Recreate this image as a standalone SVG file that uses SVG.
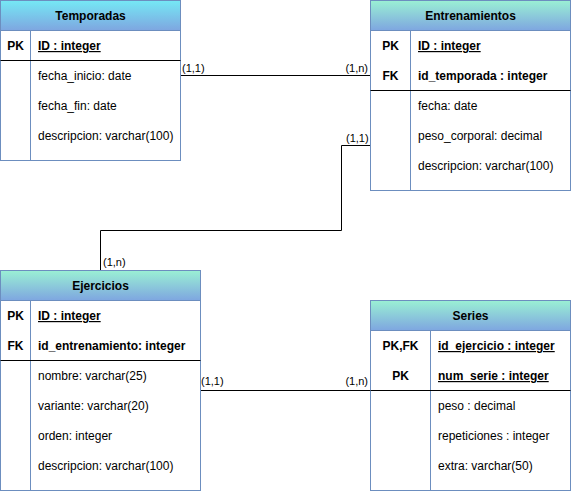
<svg xmlns="http://www.w3.org/2000/svg" width="571" height="491" viewBox="0 0 571 491">
<defs>
<linearGradient id="gCyan" x1="0" y1="0" x2="0" y2="1"><stop offset="0" stop-color="#75E8F5"/><stop offset="1" stop-color="#7EA6E0"/></linearGradient>
<linearGradient id="gGreen" x1="0" y1="0" x2="0" y2="1"><stop offset="0" stop-color="#9AF0D4"/><stop offset="1" stop-color="#7EA6E0"/></linearGradient>
<style>
.box{fill:#ffffff;stroke:#6C8EBF;stroke-width:1}
.div{stroke:#6C8EBF;stroke-width:1;fill:none}
.sep{stroke:#000000;stroke-width:1;fill:none}
.t{font-family:"Liberation Sans",Arial,sans-serif;font-size:12px;fill:#000000}
.b{font-weight:bold}
.c{text-anchor:middle}
.u{text-decoration:underline}
.lbl{font-family:"Liberation Sans",Arial,sans-serif;font-size:11px;fill:#000000}
.conn{stroke:#000000;stroke-width:1;fill:none}
</style>
</defs>
<g id="connectors">
<path class="conn" d="M180.5 75.5 H370"/>
<path class="conn" d="M370 145.5 H341.5 V230.5 H100.5 V270"/>
<path class="conn" d="M200 390.5 H370"/>
<text class="lbl" x="182" y="72">(1,1)</text>
<text class="lbl" x="368" y="72" text-anchor="end">(1,n)</text>
<text class="lbl" x="346" y="142">(1,1)</text>
<text class="lbl" x="103" y="266">(1,n)</text>
<text class="lbl" x="201" y="385">(1,1)</text>
<text class="lbl" x="368" y="385" text-anchor="end">(1,n)</text>
</g>
<g id="temporadas">
<rect class="box" x="0.5" y="0.5" width="180" height="160"/>
<rect x="0.5" y="0.5" width="180" height="30" fill="url(#gCyan)" stroke="#6C8EBF"/>
<path class="div" d="M30.5 30.5 V160.5"/>
<path class="sep" d="M0.5 60.5 H180.5"/>
<text class="t b c" x="90.5" y="20">Temporadas</text>
<text class="t b c" x="15.5" y="50">PK</text>
<text class="t b u" x="38" y="50">ID : integer</text>
<text class="t" x="38" y="80">fecha_inicio: date</text>
<text class="t" x="38" y="110">fecha_fin: date</text>
<text class="t" x="38" y="140">descripcion: varchar(100)</text>
</g>
<g id="entrenamientos">
<rect class="box" x="370.5" y="0.5" width="200" height="190"/>
<rect x="370.5" y="0.5" width="200" height="30" fill="url(#gGreen)" stroke="#6C8EBF"/>
<path class="div" d="M410.5 30.5 V190.5"/>
<path class="sep" d="M370.5 90.5 H570.5"/>
<text class="t b c" x="470.5" y="20">Entrenamientos</text>
<text class="t b c" x="390.5" y="50">PK</text>
<text class="t b u" x="418" y="50">ID : integer</text>
<text class="t b c" x="390.5" y="80">FK</text>
<text class="t b" x="418" y="80">id_temporada : integer</text>
<text class="t" x="418" y="110">fecha: date</text>
<text class="t" x="418" y="140">peso_corporal: decimal</text>
<text class="t" x="418" y="170">descripcion: varchar(100)</text>
</g>
<g id="ejercicios">
<rect class="box" x="0.5" y="270.5" width="200" height="220"/>
<rect x="0.5" y="270.5" width="200" height="30" fill="url(#gGreen)" stroke="#6C8EBF"/>
<path class="div" d="M30.5 300.5 V490.5"/>
<path class="sep" d="M0.5 360.5 H200.5"/>
<text class="t b c" x="100.5" y="290">Ejercicios</text>
<text class="t b c" x="15.5" y="320">PK</text>
<text class="t b u" x="38" y="320">ID : integer</text>
<text class="t b c" x="15.5" y="350">FK</text>
<text class="t b" x="38" y="350">id_entrenamiento: integer</text>
<text class="t" x="38" y="380">nombre: varchar(25)</text>
<text class="t" x="38" y="410">variante: varchar(20)</text>
<text class="t" x="38" y="440">orden: integer</text>
<text class="t" x="38" y="470">descripcion: varchar(100)</text>
</g>
<g id="series">
<rect class="box" x="370.5" y="300.5" width="200" height="190"/>
<rect x="370.5" y="300.5" width="200" height="30" fill="url(#gGreen)" stroke="#6C8EBF"/>
<path class="div" d="M430.5 330.5 V490.5"/>
<path class="sep" d="M370.5 390.5 H570.5"/>
<text class="t b c" x="470.5" y="320">Series</text>
<text class="t b c" x="400.5" y="350">PK,FK</text>
<text class="t b u" x="438" y="350">id_ejercicio : integer</text>
<text class="t b c" x="400.5" y="380">PK</text>
<text class="t b u" x="438" y="380">num_serie : integer</text>
<text class="t" x="438" y="410">peso : decimal</text>
<text class="t" x="438" y="440">repeticiones : integer</text>
<text class="t" x="438" y="470">extra: varchar(50)</text>
</g>
</svg>
